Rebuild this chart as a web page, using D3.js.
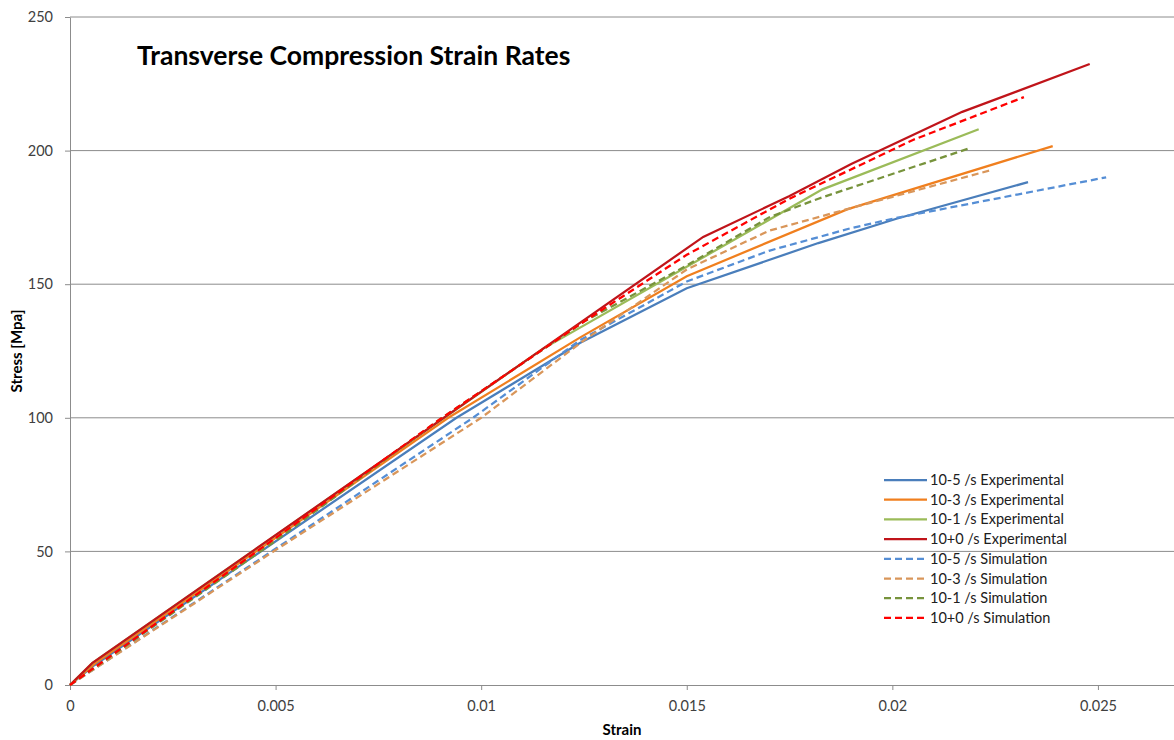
<!DOCTYPE html>
<html>
<head>
<meta charset="utf-8">
<script src="https://cdn.jsdelivr.net/npm/d3@7"></script>
<style>
  body { margin: 0; background: #fff; }
  text { font-family: Lato, "Open Sans", sans-serif; }
  .legend text { font-size: 14.5px; fill: #202020; }
</style>
</head>
<body>
<div id="chart"></div>
<script>
// strain / stress pairs
const exp5 = [[0, 0], [0.0006, 7.5], [0.0094, 100], [0.0124, 128], [0.015, 148.5], [0.0182, 165.4], [0.0201, 174.5], [0.0233, 188.2]];
const exp3 = [[0, 0], [0.0006, 8], [0.0092, 100], [0.0124, 130], [0.015, 153], [0.0189, 178], [0.0239, 201.7]];
const exp1 = [[0, 0], [0.00054, 8.2], [0.0115, 125.8], [0.0183, 185.5], [0.0221, 208]];
const exp0 = [[0, 0], [0.00054, 8.2], [0.0154, 167.7], [0.0175, 183], [0.019, 195], [0.0217, 214.5], [0.0248, 232.4]];
const sim5 = [[0, 0], [0.005, 51], [0.0098, 100], [0.0124, 129], [0.015, 151], [0.017, 162.5], [0.019, 171], [0.0201, 174.8], [0.0252, 190]];
const sim3 = [[0, 0], [0.005, 50.5], [0.01, 100], [0.0125, 129], [0.015, 155.5], [0.017, 170], [0.019, 178.5], [0.0224, 192.7]];
const sim1 = [[0, 0], [0.005, 54], [0.009, 99.5], [0.0125, 136], [0.015, 157], [0.017, 175], [0.0182, 182], [0.0219, 201]];
const sim0 = [[0, 0], [0.005, 55], [0.009, 99.5], [0.0124, 135], [0.015, 161], [0.0175, 182], [0.0205, 204], [0.0232, 220]];

const seriesNames = ["10-5 /s Experimental", "10-3 /s Experimental", "10-1 /s Experimental", "10+0 /s Experimental",
  "10-5 /s Simulation", "10-3 /s Simulation", "10-1 /s Simulation", "10+0 /s Simulation"];
const seriesData = [exp5, exp3, exp1, exp0, sim5, sim3, sim1, sim0];
const seriesColors = ["#4a7ebb", "#f07f1e", "#9bbb59", "#c0141a", "#558ed5", "#d9965a", "#77933c", "#ff0000"];
const seriesDashed = [false, false, false, false, true, true, true, true];

const xTicks = [0, 0.005, 0.01, 0.015, 0.02, 0.025];
const yTicks = [0, 50, 100, 150, 200, 250];

const W = 1174, H = 740;
const margin = { top: 17, right: 0, bottom: 55, left: 70 };

const svg = d3.select("#chart").append("svg")
  .attr("width", W)
  .attr("height", H);

const x = d3.scaleLinear().domain([0, 0.02685]).range([margin.left, W - margin.right]);
const y = d3.scaleLinear().domain([0, 250]).range([H - margin.bottom, margin.top]);

// horizontal grid
svg.append("g")
  .selectAll("line")
  .data(yTicks.filter(d => d > 0))
  .enter().append("line")
  .attr("x1", x(0)).attr("x2", W)
  .attr("y1", d => y(d)).attr("y2", d => y(d))
  .attr("stroke", "#8c8c8c")
  .attr("stroke-width", 1);

var yAxis = svg.append("g")
  .attr("transform", `translate(${x(0)},0)`)
  .call(d3.axisLeft(y).tickValues(yTicks).tickFormat(d3.format("d")).tickSize(5).tickPadding(12).tickSizeOuter(0));

var xAxis = svg.append("g")
  .attr("transform", `translate(0,${y(0)})`)
  .call(d3.axisBottom(x).tickValues(xTicks).tickFormat(d => d === 0 ? "0" : String(d)).tickSize(5).tickPadding(11).tickSizeOuter(0));

[yAxis, xAxis].forEach(function (a) {
  a.select(".domain").attr("stroke", "#8c8c8c");
  a.selectAll(".tick line").attr("stroke", "#8c8c8c");
  a.selectAll("text").attr("font-family", "Lato, sans-serif").attr("font-size", 14.5).attr("fill", "#404040");
});

const line = d3.line().x(d => x(d[0])).y(d => y(d[1]));

svg.append("g")
  .selectAll("path")
  .data(seriesData)
  .enter().append("path")
  .attr("d", line)
  .attr("fill", "none")
  .attr("stroke", (d, i) => seriesColors[i])
  .attr("stroke-width", 2.25)
  .attr("stroke-dasharray", (d, i) => seriesDashed[i] ? "7,4" : null);

// title and axis titles
svg.append("text")
  .attr("x", 137).attr("y", 65)
  .attr("font-size", 26.5).attr("font-weight", "bold")
  .attr("fill", "#000")
  .text("Transverse Compression Strain Rates");

svg.append("text")
  .attr("x", (x(0) + W) / 2).attr("y", 735)
  .attr("text-anchor", "middle")
  .attr("font-size", 15).attr("font-weight", "bold")
  .attr("fill", "#000")
  .text("Strain");

svg.append("text")
  .attr("transform", `translate(22,${(y(0) + y(250)) / 2}) rotate(-90)`)
  .attr("text-anchor", "middle")
  .attr("font-size", 15).attr("font-weight", "bold")
  .attr("fill", "#000")
  .text("Stress [Mpa]");

// legend
var legend = svg.append("g").attr("class", "legend")
  .selectAll("g")
  .data(seriesNames)
  .enter().append("g")
  .attr("transform", (d, i) => `translate(884,${480 + i * 19.7})`);

legend.append("line")
  .attr("x1", 0).attr("x2", 43)
  .attr("stroke", (d, i) => seriesColors[i])
  .attr("stroke-width", 2.25)
  .attr("stroke-dasharray", (d, i) => seriesDashed[i] ? "7,4" : null);

legend.append("text")
  .attr("x", 46).attr("dy", "0.35em")
  .text(d => d);
</script>
</body>
</html>
